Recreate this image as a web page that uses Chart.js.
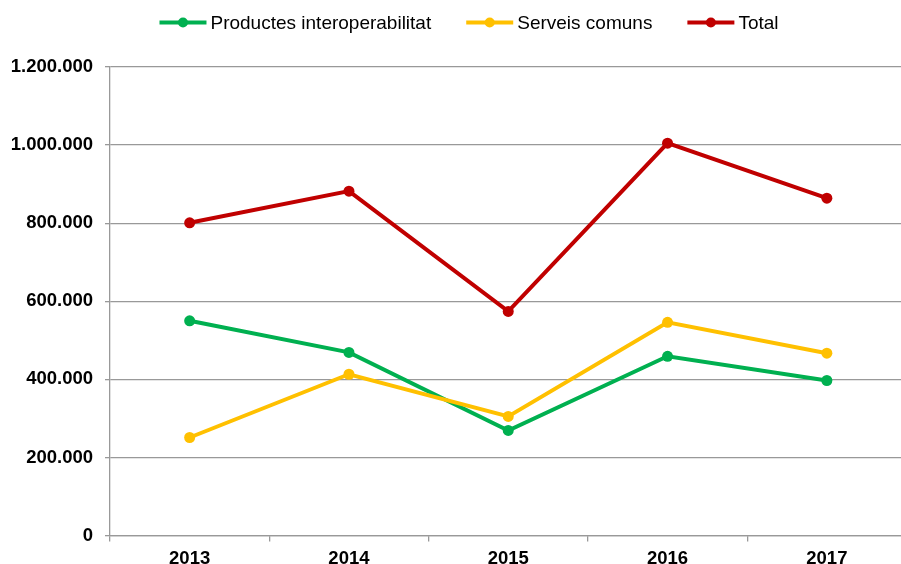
<!DOCTYPE html>
<html>
<head>
<meta charset="utf-8">
<script src="https://cdn.jsdelivr.net/npm/chart.js@4.4.1/dist/chart.umd.min.js"></script>
<style>
html,body{margin:0;padding:0;overflow:hidden;background:#fff;width:901px;height:564px;}
#wrap{position:absolute;left:0;top:0;width:912px;height:564px;}
</style>
</head>
<body>
<div id="wrap"><canvas id="c" width="912" height="564"></canvas></div>
<script>
const categories = ['2013', '2014', '2015', '2016', '2017'];
const seriesNames = ['Productes interoperabilitat', 'Serveis comuns', 'Total'];
const productes = [550000, 469000, 269000, 459000, 397000];
const serveis = [251000, 413000, 305000, 546000, 467000];
const total = [801000, 882000, 574000, 1005000, 864000];
const yTickValues = [0, 200000, 400000, 600000, 800000, 1000000, 1200000];
const yTickLabels = ['0', '200.000', '400.000', '600.000', '800.000', '1.000.000', '1.200.000'];
const colors = ['#00B050', '#FFC000', '#C00000'];

const FONT = 'Arial, "Liberation Sans", sans-serif';

const legendPlugin = {
  id: 'customLegend',
  afterDraw(chart) {
    const ctx = chart.ctx;
    ctx.save();
    ctx.font = '19px ' + FONT;
    const lineLen = 47, gap = 4, spacing = 35;
    const ds = chart.data.datasets.slice().sort((a, b) => a.legendIndex - b.legendIndex);
    const widths = ds.map(d => lineLen + gap + ctx.measureText(d.label).width);
    const totalW = widths.reduce((a, b) => a + b, 0) + spacing * (ds.length - 1);
    let x = 469 - totalW / 2;
    const y = 22.5;
    ds.forEach((d, i) => {
      ctx.strokeStyle = d.borderColor;
      ctx.lineWidth = 4;
      ctx.beginPath();
      ctx.moveTo(x, y);
      ctx.lineTo(x + lineLen, y);
      ctx.stroke();
      ctx.fillStyle = d.borderColor;
      ctx.beginPath();
      ctx.arc(x + lineLen / 2, y, 5, 0, Math.PI * 2);
      ctx.fill();
      ctx.fillStyle = '#000';
      ctx.textBaseline = 'middle';
      ctx.textAlign = 'left';
      ctx.fillText(d.label, x + lineLen + gap, y + 1);
      x += widths[i] + spacing;
    });
    ctx.restore();
  }
};

function mk(label, data, color, order, legendIndex) {
  return {
    label, data,
    borderColor: color, backgroundColor: color,
    pointBackgroundColor: color, pointBorderColor: color,
    borderWidth: 4, pointRadius: 5.5, pointBorderWidth: 0, pointHoverRadius: 5.5,
    tension: 0, fill: false, order, legendIndex
  };
}

new Chart(document.getElementById('c'), {
  type: 'line',
  data: {
    labels: categories,
    datasets: [
      mk(seriesNames[0], productes, colors[0], 3, 0),
      mk(seriesNames[1], serveis, colors[1], 2, 1),
      mk(seriesNames[2], total, colors[2], 1, 2)
    ]
  },
  options: {
    responsive: false,
    animation: false,
    devicePixelRatio: 1,
    layout: { padding: { top: 67, right: 1, left: 0, bottom: 0 } },
    plugins: { legend: { display: false }, tooltip: { enabled: false } },
    scales: {
      x: {
        type: 'category',
        offset: true,
        grid: { display: true, offset: true, drawOnChartArea: false, color: '#999', lineWidth: 1.3, tickLength: 6 },
        border: { display: true, color: '#999', width: 1.3 },
        ticks: { color: '#000', font: { family: FONT, size: 18.5, weight: 'bold' }, padding: 6, maxRotation: 0 },
        afterFit(s) { s.height = 28.5; }
      },
      y: {
        min: 0, max: 1200000,
        afterBuildTicks(s) { s.ticks = yTickValues.map(v => ({ value: v })); },
        grid: { color: '#999', lineWidth: 1.3, tickLength: 5 },
        border: { display: true, color: '#999', width: 1.3 },
        ticks: {
          color: '#000', font: { family: FONT, size: 18.5, weight: 'bold' }, padding: 12,
          callback(v) { const i = yTickValues.indexOf(v); return i >= 0 ? yTickLabels[i] : ''; }
        },
        afterFit(s) { s.width = 110; }
      }
    }
  },
  plugins: [legendPlugin]
});
</script>
</body>
</html>
